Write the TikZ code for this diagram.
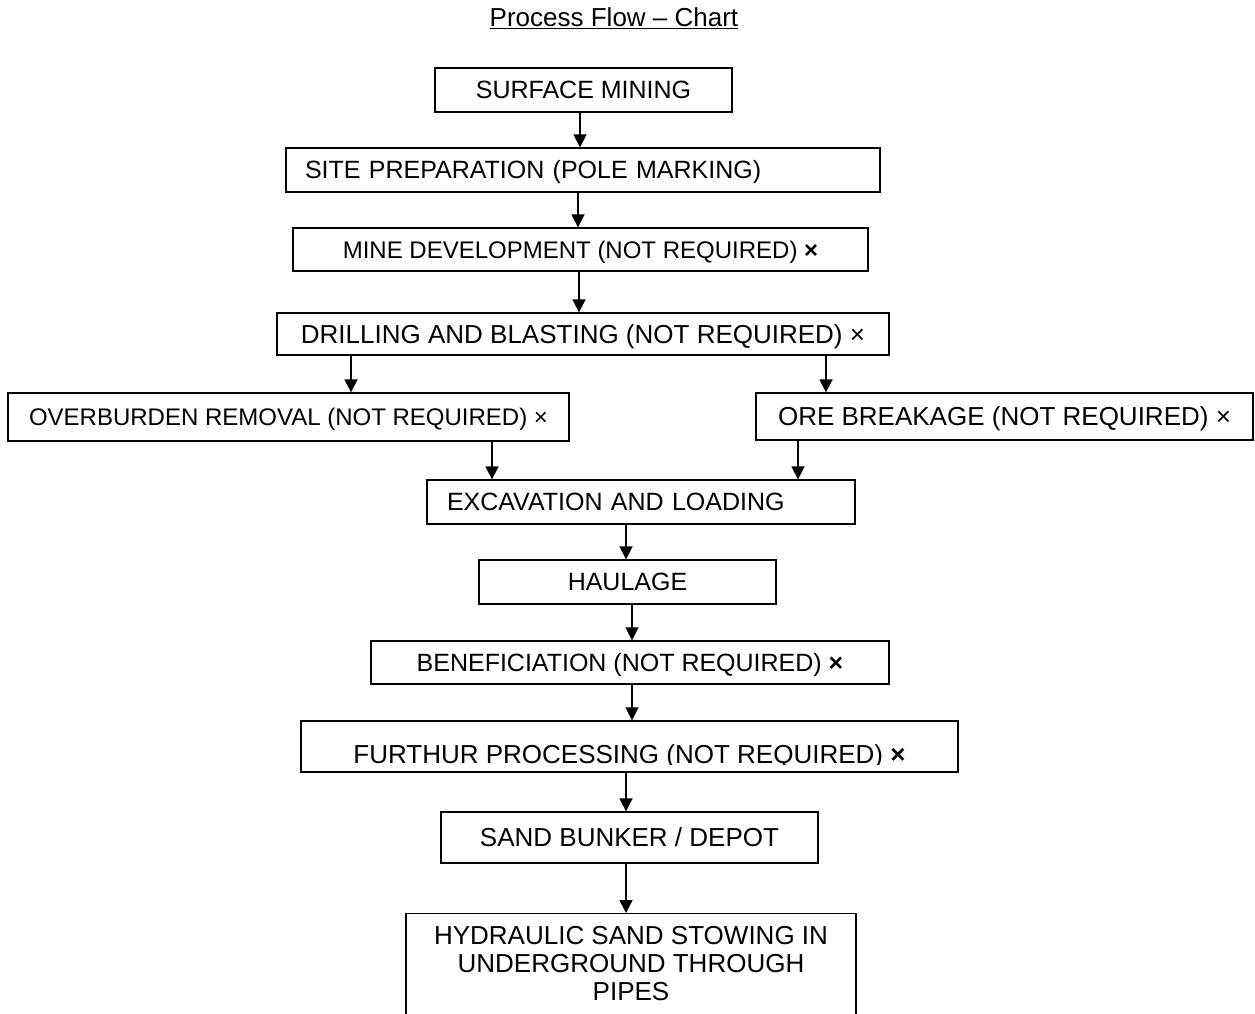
\documentclass[tikz,border=0pt]{standalone}
\usepackage{fontspec}
\setmainfont{Liberation Sans}
\usetikzlibrary{arrows.meta}
\begin{document}
\begin{tikzpicture}[x=1pt,y=-1pt,
  box/.style={draw=black, line width=1.3pt, rectangle, inner sep=0pt, text depth=0pt},
  fa/.style={font=\fontsize{24}{28}\selectfont, text height=17.2pt},
  fb/.style={font=\fontsize{25}{29}\selectfont, text height=17.9pt},
  fc/.style={font=\fontsize{26}{30}\selectfont, text height=18.6pt},
  arr/.style={line width=1.6pt, -{Triangle[width=13pt,length=13pt]}}]
\useasboundingbox (0,0) rectangle (1255,1014);
\fill[white] (0,0) rectangle (1255,1014);
\clip (0,0) rectangle (1255,1014);

\node[inner sep=0pt, anchor=base, font=\fontsize{26}{30}\selectfont] (title) at (614,26.5) {\underline{Process Flow – Chart}};

\node[box, fb, minimum width=297pt, minimum height=44pt] (s1) at (583.5,90) {SURFACE MINING};
\node[box, fb, minimum width=594pt, minimum height=44pt, text width=556pt, align=left, inner xsep=19pt] (s2) at (583,170) {SITE PREPARATION (POLE MARKING)};
\node[box, fa, minimum width=575pt, minimum height=43pt] (s3) at (580.5,249.5) {MINE DEVELOPMENT (NOT REQUIRED) \textbf{×}};
\node[box, fc, minimum width=612pt, minimum height=42pt] (s4) at (583,334) {DRILLING AND BLASTING (NOT REQUIRED) ×};
\node[box, fa, minimum width=561pt, minimum height=48pt] (s5) at (288.5,417) {OVERBURDEN REMOVAL (NOT REQUIRED) ×};
\node[box, fc, minimum width=497pt, minimum height=47pt] (s6) at (1004.5,416.5) {ORE BREAKAGE (NOT REQUIRED) ×};
\node[box, fb, minimum width=428pt, minimum height=44pt, text width=388pt, align=left, inner xsep=20pt] (s7) at (641,502) {EXCAVATION AND LOADING};
\node[box, fb, minimum width=297pt, minimum height=44pt] (s8) at (627.5,582) {HAULAGE};
\node[box, fb, minimum width=518pt, minimum height=43pt] (s9) at (630,662.5) {BENEFICIATION (NOT REQUIRED) \textbf{×}};
\node[box, minimum width=657pt, minimum height=51pt] (s10) at (629.5,746.5) {};
\begin{scope}
\clip (301,721) rectangle (958,764);
\node[inner sep=0pt, anchor=base, font=\fontsize{26}{30}\selectfont] (s10t) at (629.5,763) {FURTHUR PROCESSING (NOT REQUIRED) \textbf{×}};
\end{scope}
\node[box, fc, minimum width=377pt, minimum height=51pt] (s11) at (629.5,837.5) {SAND BUNKER / DEPOT};
\node[box, minimum width=450pt, minimum height=140pt, anchor=north] (s12) at (631,913) {};
\node[inner sep=0pt, anchor=north, align=center, font=\fontsize{26}{28}\selectfont] (s12t) at (631,926) {HYDRAULIC SAND STOWING IN\\UNDERGROUND THROUGH\\PIPES};

\coordinate (a1) at (580,0);
\coordinate (a2) at (578,0);
\coordinate (a3) at (579,0);
\coordinate (a4) at (351,0);
\coordinate (a5) at (826,0);
\coordinate (a6) at (492,0);
\coordinate (a7) at (798,0);
\coordinate (a8) at (626,0);
\coordinate (a9) at (632,0);
\coordinate (a10) at (632,0);
\coordinate (a11) at (626,0);
\coordinate (a12) at (626,0);
\draw[arr] (a1 |- s1.south) -- (a1 |- s2.north);
\draw[arr] (a2 |- s2.south) -- (a2 |- s3.north);
\draw[arr] (a3 |- s3.south) -- (a3 |- s4.north);
\draw[arr] (a4 |- s4.south) -- (a4 |- s5.north);
\draw[arr] (a5 |- s4.south) -- (a5 |- s6.north);
\draw[arr] (a6 |- s5.south) -- (a6 |- s7.north);
\draw[arr] (a7 |- s6.south) -- (a7 |- s7.north);
\draw[arr] (a8 |- s7.south) -- (a8 |- s8.north);
\draw[arr] (a9 |- s8.south) -- (a9 |- s9.north);
\draw[arr] (a10 |- s9.south) -- (a10 |- s10.north);
\draw[arr] (a11 |- s10.south) -- (a11 |- s11.north);
\draw[arr] (a12 |- s11.south) -- (a12 |- s12.north);
\end{tikzpicture}
\end{document}
